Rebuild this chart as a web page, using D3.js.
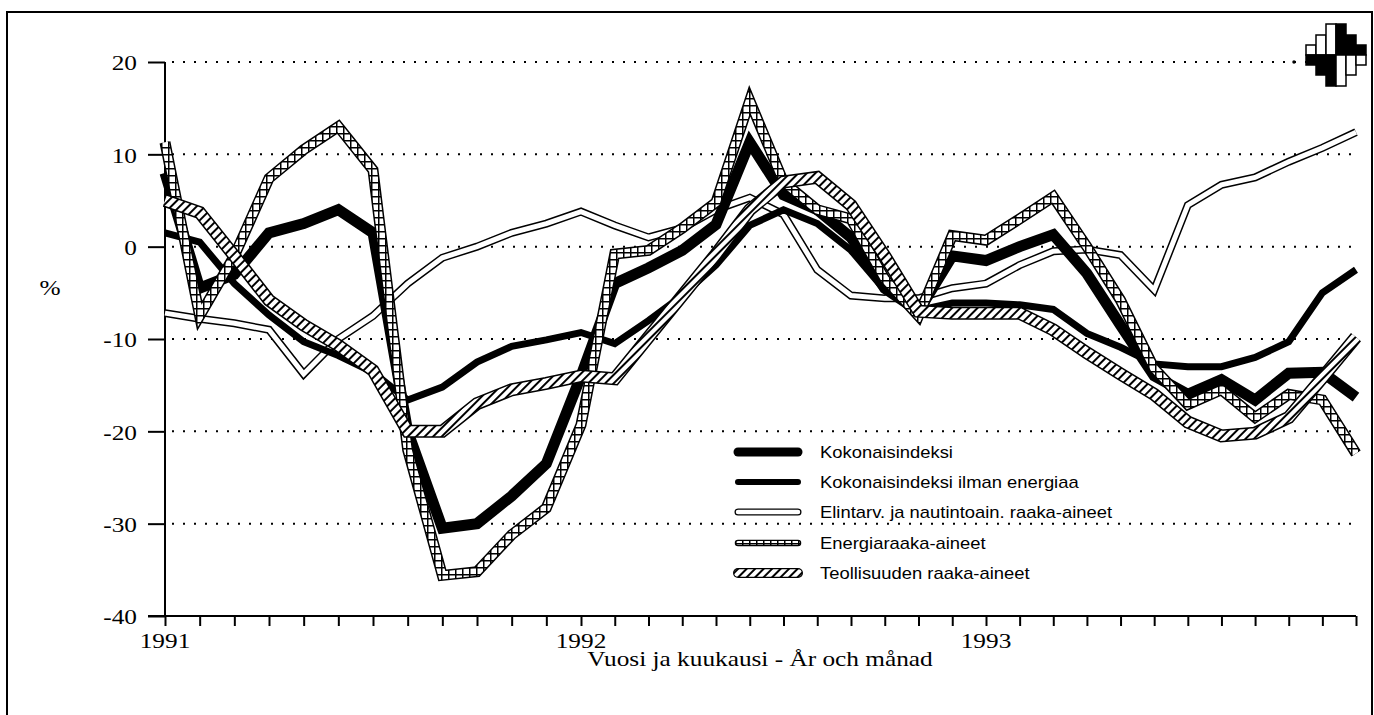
<!DOCTYPE html>
<meta charset="utf-8">
<style>
body { margin: 0; background: #fff; }
svg { display: block; }
.axis-text { font-family: 'Liberation Serif', 'Times New Roman', serif; font-size: 22px; fill: #000; }
.legend text { font-family: 'Liberation Sans', Arial, sans-serif; font-size: 16px; fill: #000; }
.grid { stroke: #000; stroke-width: 2; stroke-dasharray: 2,9; fill: none; }
</style>
<svg width="1374" height="715"></svg>
<script src="https://cdn.jsdelivr.net/npm/d3@7"></script>
<script>
// months Jan 1991 .. Dec 1993
const months = [
  '1991-01','1991-02','1991-03','1991-04','1991-05','1991-06','1991-07','1991-08','1991-09','1991-10','1991-11','1991-12',
  '1992-01','1992-02','1992-03','1992-04','1992-05','1992-06','1992-07','1992-08','1992-09','1992-10','1992-11','1992-12',
  '1993-01','1993-02','1993-03','1993-04','1993-05','1993-06','1993-07','1993-08','1993-09','1993-10','1993-11','1993-12'
];
const yearLabels = ['1991', '1992', '1993'];
const yTicks = [20, 10, 0, -10, -20, -30, -40];

const kokonaisindeksi = [8, -4.5, -3, 1.5, 2.5, 4, 1.5, -20, -30.5, -30, -27, -23.5,
  -14, -4, -2.3, -0.4, 2.4, 11.3, 5.6, 4, 1, -4.5, -7, -1,
  -1.5, 0, 1.3, -2.9, -8.5, -14, -16, -14.4, -16.6, -13.7, -13.6, -16.3];
const ilmanEnergiaa = [1.5, 0.5, -4, -7.4, -10.3, -11.8, -13.6, -16.6, -15.2, -12.5, -10.8, -10.1,
  -9.3, -10.5, -8, -5.3, -2, 2.3, 4, 2.5, -0.4, -4.7, -6.9, -6.1,
  -6.1, -6.3, -6.8, -9.4, -10.9, -12.7, -13, -13, -12, -10.3, -5, -2.5];
const elintarvikkeet = [-7.2, -7.8, -8.3, -9, -13.8, -10, -7.5, -4, -1.2, 0, 1.5, 2.5,
  3.8, 2.3, 1, 2, 4, 5.3, 3.5, -2.5, -5.3, -5.6, -5.6, -4.5,
  -4, -2, -0.5, -0.3, -0.9, -4.7, 4.5, 6.7, 7.5, 9.2, 10.7, 12.4];
const energia = [11.3, -7.5, -1, 7.4, 10.5, 13, 8.3, -22, -35.6, -35.2, -31.2, -28.3,
  -19.3, -0.8, -0.4, 2, 4.8, 15.8, 7, 4, 3, -3.5, -7.5, 1.2,
  0.7, 3, 5.4, 0, -5.8, -13.2, -17.1, -15.5, -18.5, -16, -16.6, -22.4];
const teollisuus = [5, 3.7, -1, -5.8, -8.5, -10.7, -13.4, -20, -20, -17, -15.5, -14.8,
  -14, -14.3, -9.8, -5.3, -0.8, 4, 7, 7.5, 4.5, -1, -7, -7.2,
  -7.2, -7.2, -9, -11.5, -13.8, -16, -19, -20.5, -20.2, -18.5, -14.2, -9.8];

const seriesNames = [
  'Kokonaisindeksi',
  'Kokonaisindeksi ilman energiaa',
  'Elintarv. ja nautintoain. raaka-aineet',
  'Energiaraaka-aineet',
  'Teollisuuden raaka-aineet'
];

const svg = d3.select('svg');
const SX = 1.15;   // the scanned lettering is a bit wide

const x = d3.scaleLinear()
  .domain([0, 12, 24, 35])
  .range([165, 581, 986, 1356]);
const y = d3.scaleLinear()
  .domain([-40, 20])
  .range([616, 62]);

// patterns (fixed in screen space, like the printed hatching)
const defs = svg.append('defs');
const diag = defs.append('pattern')
  .attr('id', 'diag').attr('patternUnits', 'userSpaceOnUse')
  .attr('width', 6).attr('height', 6)
  .attr('patternTransform', 'rotate(45)');
diag.append('rect').attr('width', 6).attr('height', 6).attr('fill', '#fff');
diag.append('line').attr('x1', 3).attr('y1', 0).attr('x2', 3).attr('y2', 6)
  .attr('stroke', '#000').attr('stroke-width', 2);

const grid = defs.append('pattern')
  .attr('id', 'gridpat').attr('patternUnits', 'userSpaceOnUse')
  .attr('width', 7).attr('height', 7);
grid.append('rect').attr('width', 7).attr('height', 7).attr('fill', '#fff');
grid.append('path').attr('d', 'M0,0.75H7M0.75,0V7')
  .attr('stroke', '#000').attr('stroke-width', 1.5).attr('fill', 'none');

// frame (bottom edge runs off the page)
svg.append('rect')
  .attr('x', 7).attr('y', 12).attr('width', 1365).attr('height', 720)
  .attr('fill', 'none').attr('stroke', '#000').attr('stroke-width', 2);

// dotted gridlines
svg.append('g')
  .selectAll('line')
  .data(yTicks.filter(d => d > -40))
  .enter().append('line')
    .attr('class', 'grid')
    .attr('x1', 172).attr('x2', x(35))
    .attr('y1', d => y(d)).attr('y2', d => y(d));

// axes
const yAxis = svg.append('g').attr('transform', `translate(${x(0)},0)`)
  .call(d3.axisLeft(y).tickValues(yTicks).tickSize(17).tickFormat(d => String(d)));
yAxis.attr('font-size', null).attr('font-family', null);
yAxis.select('.domain').remove();
yAxis.append('line').attr('x1', 0).attr('x2', 0).attr('y1', y(20)).attr('y2', y(-40))
  .attr('stroke', '#000').attr('stroke-width', 2);
yAxis.selectAll('.tick line').attr('stroke-width', 2);
yAxis.selectAll('.tick text')
  .attr('class', 'axis-text')
  .attr('x', -28 / SX).attr('dy', '0.35em')
  .attr('transform', `scale(${SX},1)`);

const xAxis = svg.append('g').attr('transform', `translate(0,${y(-40)})`)
  .call(d3.axisBottom(x).tickValues(d3.range(months.length)).tickSize(10).tickFormat(''));
xAxis.select('.domain').remove();
xAxis.append('line').attr('x1', 148).attr('x2', x(35)).attr('y1', 0).attr('y2', 0)
  .attr('stroke', '#000').attr('stroke-width', 2);
xAxis.selectAll('.tick line').attr('stroke-width', 2);

svg.append('g').selectAll('text')
  .data(yearLabels)
  .enter().append('text')
    .attr('class', 'axis-text')
    .attr('transform', d => `translate(${x(months.indexOf(d + '-01'))},648) scale(${SX},1)`)
    .attr('text-anchor', 'middle')
    .text(d => d);

svg.append('text').attr('class', 'axis-text')
  .attr('transform', `translate(760,666) scale(${SX},1)`)
  .attr('text-anchor', 'middle')
  .text('Vuosi ja kuukausi - År och månad');

svg.append('text').attr('class', 'axis-text')
  .attr('transform', `translate(50,295) scale(${SX},1)`)
  .attr('text-anchor', 'middle')
  .text('%');

// series styles: list of stroke layers, drawn bottom to top
const styles = [
  [{stroke: '#000', w: 11}],
  [{stroke: '#000', w: 7}],
  [{stroke: '#000', w: 8}, {stroke: '#fff', w: 5}],
  [{stroke: '#000', w: 11}, {stroke: 'url(#gridpat)', w: 8}],
  [{stroke: '#000', w: 13}, {stroke: 'url(#diag)', w: 10}]
];
const legendStyles = [
  [{stroke: '#000', w: 9}],
  [{stroke: '#000', w: 6}],
  [{stroke: '#000', w: 7}, {stroke: '#fff', w: 4.5}],
  [{stroke: '#000', w: 6.5}, {stroke: 'url(#gridpat)', w: 4}],
  [{stroke: '#000', w: 10}, {stroke: 'url(#diag)', w: 7.5}]
];
const seriesData = [kokonaisindeksi, ilmanEnergiaa, elintarvikkeet, energia, teollisuus];

const line = d3.line()
  .x((d, i) => x(i))
  .y(d => y(d));

// draw order: food, ex-energy, total, energy, industrial
const order = [2, 1, 0, 3, 4];
const lines = svg.append('g').attr('class', 'series');
order.forEach(k => {
  const g = lines.append('g');
  styles[k].forEach(s => {
    g.append('path')
      .datum(seriesData[k])
      .attr('d', line)
      .attr('fill', 'none')
      .attr('stroke', s.stroke)
      .attr('stroke-width', s.w)
      .attr('stroke-linejoin', 'miter')
      .attr('stroke-miterlimit', 3);
  });
});

// legend
const legendY = [452, 482, 512, 543, 573];
const legend = svg.append('g').attr('class', 'legend');
seriesNames.forEach((name, k) => {
  const g = legend.append('g').attr('transform', `translate(0,${legendY[k]})`);
  legendStyles[k].forEach(s => {
    g.append('line')
      .attr('x1', 738).attr('x2', 798)
      .attr('stroke', s.stroke).attr('stroke-width', s.w)
      .attr('stroke-linecap', 'round');
  });
  g.append('text')
    .attr('transform', `translate(820,6) scale(${SX},1)`)
    .text(name);
});

// emblem, top right
const emblem = svg.append('g').attr('stroke', '#000').attr('stroke-width', 1.5);
const cols = [
  {x: 1306, h: 10}, {x: 1316, h: 20}, {x: 1326, h: 31},
  {x: 1336, h: 31}, {x: 1346, h: 20}, {x: 1356, h: 10}
];
const mid = 55;
cols.forEach((c, i) => {
  const left = i < 3;
  emblem.append('rect').attr('x', c.x).attr('y', mid - c.h).attr('width', 10).attr('height', c.h)
    .attr('fill', left ? '#fff' : '#000');
  emblem.append('rect').attr('x', c.x).attr('y', mid).attr('width', 10).attr('height', c.h)
    .attr('fill', left ? '#000' : '#fff');
});
emblem.append('circle').attr('cx', 1294).attr('cy', 62).attr('r', 1).attr('fill', '#000');
</script>
